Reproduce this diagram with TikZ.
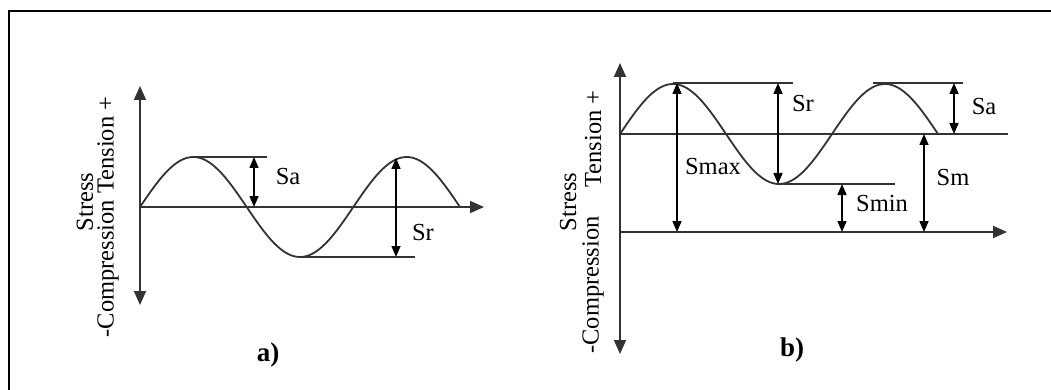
\documentclass[tikz,border=0pt]{standalone}
\usepackage{fontspec}
\setmainfont{Liberation Serif}
\usetikzlibrary{arrows.meta}
\begin{document}
\begin{tikzpicture}[x=1pt,y=-1pt,
  ln/.style={draw=black!80,line width=1.8pt},
  axis/.style={ln,-{Triangle[length=14pt,width=12pt]}},
  axis2/.style={ln,{Triangle[length=14pt,width=12pt]}-{Triangle[length=14pt,width=12pt]}},
  dim/.style={draw=black,line width=1.5pt,{Triangle[length=11pt,width=9pt]}-{Triangle[length=11pt,width=9pt]}},
  lbl/.style={font=\fontsize{24.5}{28}\selectfont,inner sep=0pt},
  captxt/.style={font=\fontsize{27}{30}\selectfont\bfseries,inner sep=0pt}]
\useasboundingbox (0,0) rectangle (1051,390);
\fill[white] (0,0) rectangle (1051,390);
% frame
\draw[line width=2.2pt] (9,390) -- (9,11) -- (1051,11);

% ---------- panel a ----------
\coordinate (aO) at (140,207);
\coordinate (aT) at (140,86);
\coordinate (aB) at (140,305);
\coordinate (aR) at (484,207);
\draw[axis2] (aB) -- (aT);
\draw[axis] (aO) -- (aR);
\draw[ln] plot[domain=0:320,samples=120] ({140+\x},{207-50*sin(\x/213.333*360)});
\coordinate (aP1) at (193,157);
\coordinate (aP1e) at (267,157);
\draw[ln] (aP1) -- (aP1e);
\coordinate (aT1) at (300,257);
\coordinate (aT1e) at (415,257);
\draw[ln] (aT1) -- (aT1e);
\coordinate (aSaT) at (254,157);
\coordinate (aSaB) at (254,207);
\draw[dim] (aSaT) -- (aSaB);
\coordinate (aSrT) at (396,158);
\coordinate (aSrB) at (396,257);
\draw[dim] (aSrT) -- (aSrB);
\node[lbl] (aSa) at (288,177) {Sa};
\node[lbl] (aSr) at (423,233) {Sr};
\node[lbl,rotate=90] (aStress) at (85,202) {Stress};
\node[lbl,rotate=90] (aCT) at (108,217) {-Compression Tension +};
\node[captxt] (acap) at (268,355) {a)};

% ---------- panel b ----------
\coordinate (bO) at (620,232);
\coordinate (bT) at (620,63);
\coordinate (bB) at (620,354);
\coordinate (bR) at (1007,232);
\coordinate (bM) at (620,134);
\coordinate (bMe) at (1008,134);
\draw[axis2] (bB) -- (bT);
\draw[axis] (bO) -- (bR);
\draw[ln] (bM) -- (bMe);
\draw[ln] plot[domain=0:318,samples=120] ({620+\x},{134-50*sin(\x/212*360)});
\coordinate (bP1) at (673,83);
\coordinate (bP1e) at (793,83);
\draw[ln] (bP1) -- (bP1e);
\coordinate (bP2) at (873,83);
\coordinate (bP2e) at (963,83);
\draw[ln] (bP2) -- (bP2e);
\coordinate (bT1) at (780,184);
\coordinate (bT1e) at (895,184);
\draw[ln] (bT1) -- (bT1e);
\coordinate (bSmaxT) at (677,83);
\coordinate (bSmaxB) at (677,232);
\draw[dim] (bSmaxT) -- (bSmaxB);
\coordinate (bSrT) at (778,83);
\coordinate (bSrB) at (778,184);
\draw[dim] (bSrT) -- (bSrB);
\coordinate (bSaT) at (954,83);
\coordinate (bSaB) at (954,134);
\draw[dim] (bSaT) -- (bSaB);
\coordinate (bSminT) at (842,184);
\coordinate (bSminB) at (842,232);
\draw[dim] (bSminT) -- (bSminB);
\coordinate (bSmT) at (924,134);
\coordinate (bSmB) at (924,232);
\draw[dim] (bSmT) -- (bSmB);
\node[lbl] (bSr) at (803,104) {Sr};
\node[lbl] (bSa) at (984,107) {Sa};
\node[lbl] (bSmax) at (713,167) {Smax};
\node[lbl] (bSmin) at (882,204) {Smin};
\node[lbl] (bSm) at (953,178) {Sm};
\node[lbl,rotate=90] (bStress) at (568,202) {Stress};
\node[lbl,rotate=90] (bTen) at (593,139) {Tension +};
\node[lbl,rotate=90] (bCom) at (593,285) {-Compression};
\node[captxt] (bcap) at (792,350) {b)};
\end{tikzpicture}
\end{document}
